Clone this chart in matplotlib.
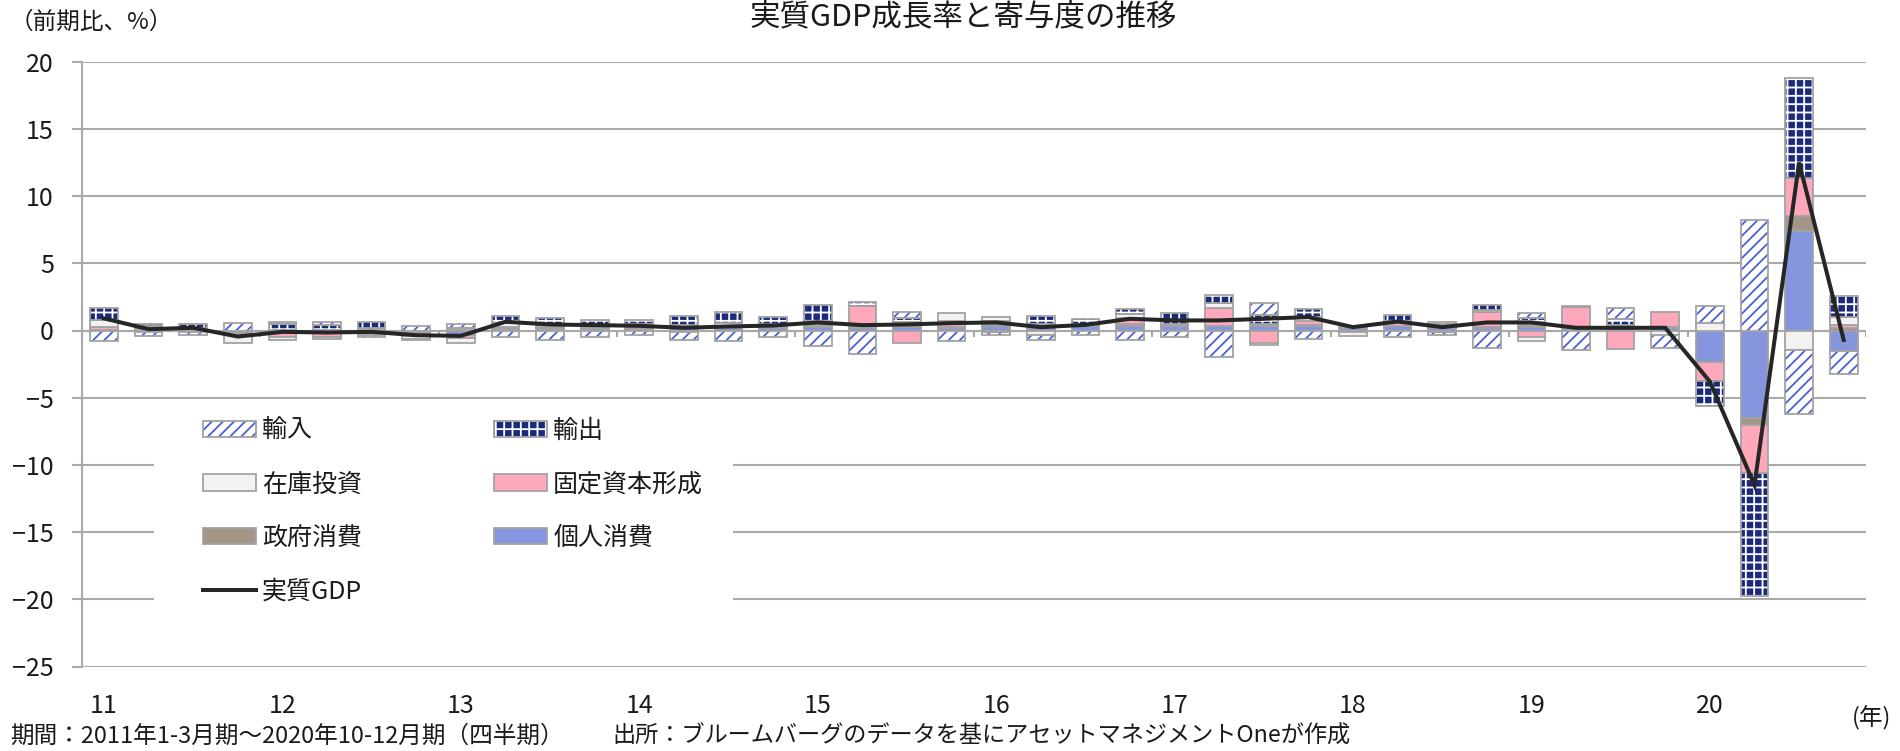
import numpy as np
import matplotlib
matplotlib.use("Agg")
import matplotlib.pyplot as plt
from matplotlib.patches import Patch, Rectangle
from matplotlib.lines import Line2D

plt.rcParams['font.family'] = ['Noto Sans CJK JP', 'DejaVu Sans']
plt.rcParams['hatch.linewidth'] = 1.3

# ---------------- data (contribution, %pt, quarterly 2011Q1-2020Q4) ----------------
year_labels = ['11', '12', '13', '14', '15', '16', '17', '18', '19', '20']

personal = [0.05, -0.1, -0.1, -0.15, -0.2, -0.2, -0.15, -0.2, -0.35, 0.1,
            0.1, 0.1, 0.1, 0.15, 0.22, 0.22, 0.25, 0.2, 0.27, 0.2,
            0.3, 0.2, 0.3, 0.35, 0.3, 0.3, 0.35, 0.35, 0.2, 0.3,
            0.2, 0.22, 0.25, 0.1, 0.25, 0.15, -2.35, -6.5, 7.43, -1.54]
government = [0.0, 0.05, 0.0, -0.05, 0.05, 0.05, 0.05, 0.0, 0.05, 0.05,
              0.05, 0.05, 0.05, 0.05, 0.07, 0.07, 0.07, 0.05, 0.07, 0.08,
              0.1, 0.07, 0.07, 0.1, 0.05, 0.07, 0.1, 0.07, 0.05, 0.07,
              0.05, 0.05, 0.15, 0.1, 0.1, 0.1, 0.0, -0.55, 1.09, 0.18]
fixed_capital = [0.2, 0.1, 0.05, -0.1, -0.3, -0.25, -0.2, -0.2, -0.2, 0.1,
                 0.1, 0.1, 0.2, -0.1, 0.05, 0.1, 0.15, 1.55, -0.95, 0.45,
                 0.3, 0.2, 0.05, 0.5, 0.05, 1.3, -0.95, 0.25, -0.1, 0.2,
                 0.2, 1.1, -0.5, 1.55, -1.4, 1.15, -1.4, -3.55, 2.85, 0.22]
inventory = [0.5, 0.15, 0.1, -0.65, -0.2, -0.2, 0.1, -0.2, -0.35, 0.3,
             0.15, 0.1, 0.1, 0.2, 0.2, 0.1, 0.2, 0.05, 0.3, 0.55,
             0.3, -0.3, 0.05, 0.3, 0.05, 0.4, -0.15, 0.35, -0.3, 0.15,
             0.15, 0.15, -0.3, 0.1, 0.05, -0.3, 0.55, 0.0, -1.42, 0.6]
exports = [0.9, 0.2, 0.35, 0.0, 0.4, 0.35, 0.45, -0.1, 0.15, 0.55,
           0.5, 0.45, 0.35, 0.7, 0.86, 0.55, 1.2, 0.3, 0.3, 0.0,
           -0.1, 0.6, 0.4, 0.35, 0.85, 0.55, 0.7, 0.6, 0.0, 0.4,
           -0.1, 0.37, 0.55, 0.0, 0.45, 0.0, -1.85, -9.15, 7.45, 1.55]
imports = [-0.8, -0.3, -0.25, 0.55, 0.15, 0.2, -0.15, 0.3, 0.3, -0.5,
           -0.7, -0.5, -0.37, -0.6, -0.8, -0.5, -1.15, -1.75, 0.4, -0.8,
           -0.22, -0.4, -0.32, -0.7, -0.5, -1.95, 0.9, -0.65, 0.0, -0.5,
           -0.2, -1.3, 0.35, -1.42, 0.85, -1.0, 1.3, 8.24, -4.8, -1.73]
real_gdp = [0.9, 0.1, 0.2, -0.45, -0.1, -0.15, -0.1, -0.35, -0.4, 0.65,
            0.45, 0.4, 0.35, 0.2, 0.3, 0.37, 0.6, 0.4, 0.45, 0.55,
            0.6, 0.25, 0.42, 0.87, 0.75, 0.75, 0.87, 1.0, 0.25, 0.67,
            0.25, 0.6, 0.6, 0.2, 0.2, 0.2, -3.8, -11.5, 12.5, -0.7]

# ---------------- styles ----------------
EDGE = '#A3A3A3'
GRID = '#A9A9A9'
TXT = '#1a1a1a'
series = [  # stacking order from the zero line outward
    ('個人消費', personal, dict(face='#8596DF', hatch=None, hcol=None)),
    ('政府消費', government, dict(face='#A39686', hatch=None, hcol=None)),
    ('固定資本形成', fixed_capital, dict(face='#FFA7BB', hatch=None, hcol=None)),
    ('在庫投資', inventory, dict(face='#F2F2F2', hatch=None, hcol=None)),
    ('輸出', exports, dict(face='#1C2A7C', hatch='++', hcol='white')),
    ('輸入', imports, dict(face='white', hatch='///', hcol='#4A5FD6')),
]

W, H = 1900, 751
fig = plt.figure(figsize=(W / 100, H / 100), dpi=100)
left, right, top, bottom = 81.7, 1866, 61.7, 666.5
ax = fig.add_axes([left / W, 1 - bottom / H, (right - left) / W, (bottom - top) / H])

n = len(real_gdp)
x = np.arange(n)
bw = 0.62
pos_cum = np.zeros(n)
neg_cum = np.zeros(n)
handles = {}
for name, vals, st in series:
    v = np.asarray(vals, dtype=float)
    base = np.where(v >= 0, pos_cum, neg_cum)
    m = v != 0
    if st['hatch']:
        ax.bar(x[m], v[m], bottom=base[m], width=bw, color=st['face'], hatch=st['hatch'],
               edgecolor=st['hcol'], linewidth=0, zorder=2)
        ax.bar(x[m], v[m], bottom=base[m], width=bw, fill=False, edgecolor=EDGE,
               linewidth=1.3, zorder=2.1)
        handles[name] = (Patch(facecolor=st['face'], hatch=st['hatch'], edgecolor=st['hcol'], linewidth=0),
                         Patch(fill=False, edgecolor=EDGE, linewidth=1.3))
    else:
        ax.bar(x[m], v[m], bottom=base[m], width=bw, color=st['face'], edgecolor=EDGE,
               linewidth=1.3, zorder=2)
        handles[name] = Patch(facecolor=st['face'], edgecolor=EDGE, linewidth=1.3)
    pos_cum = pos_cum + np.where(v > 0, v, 0)
    neg_cum = neg_cum + np.where(v < 0, v, 0)

ax.plot(x, real_gdp, color='#262626', lw=2.9, zorder=5, solid_joinstyle='miter')
handles['実質GDP'] = Line2D([], [], color='#262626', lw=2.9)

# ---------------- axes ----------------
ax.set_xlim(-0.5, n - 0.5)
ax.set_ylim(-25, 20)
ax.set_yticks(np.arange(-25, 21, 5))
ax.yaxis.grid(True, color=GRID, lw=1.5)
ax.set_axisbelow(True)
ax.axhline(0, color=GRID, lw=1.5, zorder=1.5)
# category axis tick marks at year boundaries
ax.vlines(np.arange(-0.5, n, 4), -0.5, 0, color=GRID, lw=1.5, zorder=1.5)

for s in ['top', 'right', 'bottom']:
    ax.spines[s].set_visible(False)
ax.spines['left'].set_color(GRID)
ax.spines['left'].set_linewidth(1.5)
ax.tick_params(axis='y', length=7, width=1.5, color=GRID, pad=13, labelsize=18, labelcolor=TXT)
ax.set_xticks(x[::4])
ax.set_xticklabels(year_labels)
ax.tick_params(axis='x', length=0, pad=19, labelsize=18, labelcolor=TXT)

# legend (white box hides gridlines)
ax.add_patch(Rectangle((0.0405, 0.090), 0.3245, 0.3405, transform=ax.transAxes,
                       facecolor='white', edgecolor='none', zorder=1))
order = ['輸入', '在庫投資', '政府消費', '実質GDP', '輸出', '固定資本形成', '個人消費']
leg = ax.legend([handles[k] for k in order], order, ncol=2, loc='upper left',
                bbox_to_anchor=(0.068, 0.411), frameon=False, fontsize=18,
                handlelength=2.1, handleheight=0.65, handletextpad=0.25,
                labelspacing=1.1, columnspacing=5.3, borderpad=0, borderaxespad=0)
for t in leg.get_texts():
    t.set_color(TXT)

# ---------------- texts ----------------
fig.text(963 / W, 1 - 1 / H, '実質GDP成長率と寄与度の推移', ha='center', va='top',
         fontsize=22, color=TXT)
fig.text(10 / W, 1 - 22 / H, '（前期比、%）', ha='left', va='center', fontsize=17, color=TXT)
fig.text(1872 / W, 1 - 718 / H, '(年)', ha='center', va='center', fontsize=17, color=TXT)
fig.text(10 / W, 1 - 736 / H, '期間：2011年1-3月期～2020年10-12月期（四半期）', ha='left', va='center',
         fontsize=17, color=TXT)
fig.text(612 / W, 1 - 736 / H, '出所：ブルームバーグのデータを基にアセットマネジメントOneが作成',
         ha='left', va='center', fontsize=16.7, color=TXT)

fig.savefig('out.png', dpi=100)
